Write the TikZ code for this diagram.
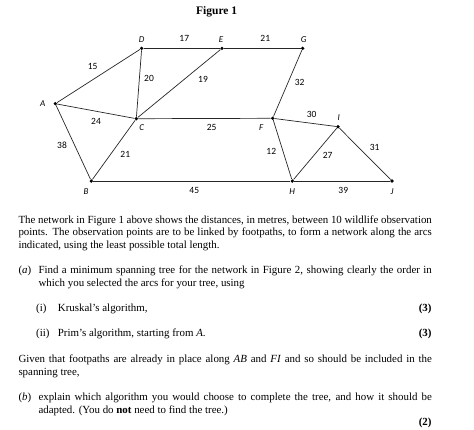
\documentclass[tikz,border=0pt]{standalone}
\usepackage{fontspec}
\setmainfont{Liberation Serif}
\newfontfamily\lblfont{Carlito}
\begin{document}
\begin{tikzpicture}[x=1pt,y=-1pt,
  dot/.style={circle,fill=black,inner sep=0pt,minimum size=3.6pt},
  edge/.style={draw=black!85,line width=0.7pt},
  vlab/.style={font=\lblfont\itshape\fontsize{9}{10}\selectfont,inner sep=0pt},
  wlab/.style={font=\lblfont\fontsize{9.5}{10}\selectfont,inner sep=0pt},
  txt/.style={anchor=base west,inner sep=0pt,font=\fontsize{10.9}{12.7}\selectfont}]
\useasboundingbox (0,0) rectangle (474,429);
\node[font=\bfseries\fontsize{11.5}{13}\selectfont,inner sep=0pt] (title) at (216.7,12) {Figure 1};
% vertices
\node[dot] (D) at (141.7,48.3) {};
\node[dot] (E) at (222,48.3) {};
\node[dot] (G) at (302.7,48.3) {};
\node[dot] (A) at (55.3,103.7) {};
\node[dot] (C) at (136.3,118.7) {};
\node[dot] (F) at (272.7,118.3) {};
\node[dot] (I) at (338,126.7) {};
\node[dot] (B) at (91.3,181) {};
\node[dot] (H) at (292.3,181) {};
\node[dot] (J) at (392,181) {};
% edges
\draw[edge] (A) -- (D);
\draw[edge] (A) -- (C);
\draw[edge] (A) -- (B);
\draw[edge] (D) -- (E);
\draw[edge] (E) -- (G);
\draw[edge] (D) -- (C);
\draw[edge] (E) -- (C);
\draw[edge] (G) -- (F);
\draw[edge] (C) -- (F);
\draw[edge] (C) -- (B);
\draw[edge] (F) -- (I);
\draw[edge] (F) -- (H);
\draw[edge] (I) -- (H);
\draw[edge] (I) -- (J);
\draw[edge] (B) -- (H);
\draw[edge] (H) -- (J);
% vertex labels
\node[vlab] (lD) at (141.7,39.3) {D};
\node[vlab] (lE) at (221,39.3) {E};
\node[vlab] (lG) at (303.7,39.3) {G};
\node[vlab] (lA) at (42.7,103.7) {A};
\node[vlab] (lC) at (141.7,128) {C};
\node[vlab] (lF) at (261.3,128) {F};
\node[vlab] (lI) at (338.7,117.3) {I};
\node[vlab] (lB) at (86,191.3) {B};
\node[vlab] (lH) at (292.3,191.3) {H};
\node[vlab] (lJ) at (392,191.3) {J};
% weights
\node[wlab] (w1) at (184.3,38.7) {17};
\node[wlab] (w2) at (265.3,38.7) {21};
\node[wlab] (w3) at (92.7,66) {15};
\node[wlab] (w4) at (149,78) {20};
\node[wlab] (w5) at (203,79) {19};
\node[wlab] (w6) at (299.7,82.7) {32};
\node[wlab] (w7) at (311.7,114) {30};
\node[wlab] (w8) at (96,121.3) {24};
\node[wlab] (w9) at (211.7,127.7) {25};
\node[wlab] (w10) at (62,145.3) {38};
\node[wlab] (w11) at (125.3,154.3) {21};
\node[wlab] (w12) at (271.3,151.7) {12};
\node[wlab] (w13) at (327.7,155.7) {27};
\node[wlab] (w14) at (374.7,147) {31};
\node[wlab] (w15) at (194.3,190) {45};
\node[wlab] (w16) at (343.3,190.7) {39};
% text
\node[txt] (t1) at (18.3,223) {\makebox[413.4pt][s]{The network in Figure 1 above shows the distances, in metres, between 10 wildlife observation}};
\node[txt] (t2) at (18.3,235.8) {\makebox[413.4pt][s]{points. The observation points are to be linked by footpaths, to form a network along the arcs}};
\node[txt] (t3) at (18.3,248.5) {indicated, using the least possible total length.};
\node[txt] (a1) at (18.3,273.8) {(\textit{a})};
\node[txt] (a2) at (38.3,273.8) {\makebox[393.4pt][s]{Find a minimum spanning tree for the network in Figure 2, showing clearly the order in}};
\node[txt] (a3) at (38.3,286.5) {which you selected the arcs for your tree, using};
\node[txt] (i1) at (36,311.5) {(i)};
\node[txt] (i2) at (57.7,311.5) {Kruskal’s algorithm,};
\node[txt] (i3) at (431.7,311.5) [anchor=base east] {\textbf{(3)}};
\node[txt] (ii1) at (36,336.8) {(ii)};
\node[txt] (ii2) at (57.7,336.8) {Prim’s algorithm, starting from \textit{A}.};
\node[txt] (ii3) at (431.7,336.8) [anchor=base east] {\textbf{(3)}};
\node[txt] (g1) at (18.3,362.3) {\makebox[413.4pt][s]{Given that footpaths are already in place along \textit{AB} and \textit{FI} and so should be included in the}};
\node[txt] (g2) at (18.3,375) {spanning tree,};
\node[txt] (b1) at (18.3,400) {(\textit{b})};
\node[txt] (b2) at (38.3,400) {\makebox[393.4pt][s]{explain which algorithm you would choose to complete the tree, and how it should be}};
\node[txt] (b3) at (38.3,413.2) {adapted. (You do \textbf{not} need to find the tree.)};
\node[txt] (b4) at (431.7,425.5) [anchor=base east] {\textbf{(2)}};
\end{tikzpicture}
\end{document}
